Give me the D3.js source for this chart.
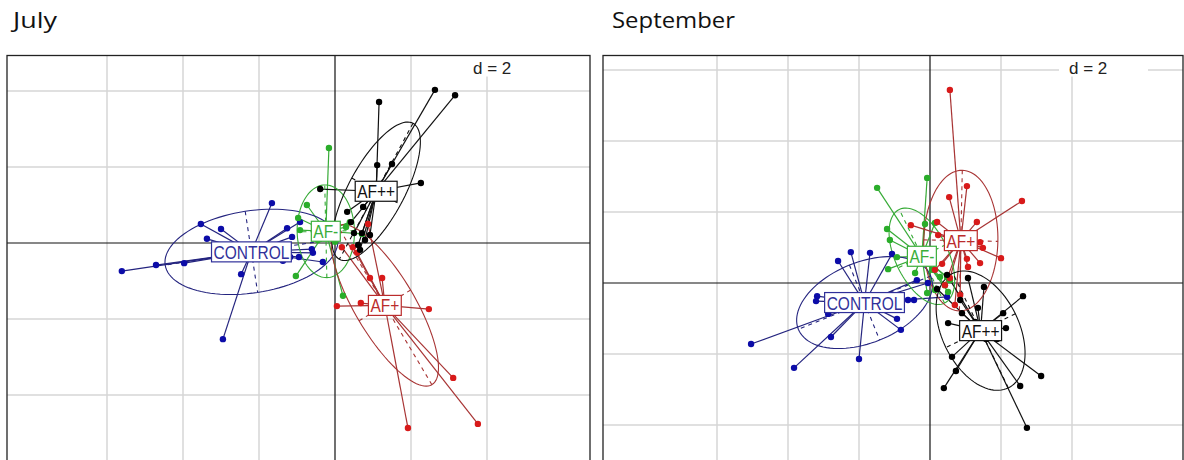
<!DOCTYPE html>
<html><head><meta charset="utf-8">
<script src="https://cdn.jsdelivr.net/npm/d3@7"></script>
<style>body{margin:0;background:#fff;}svg{display:block;}</style>
</head><body>
<svg id="chart" width="1184" height="460"></svg>
<script>
// ---- data (coordinates on the two first axes) ----
const groupNames = ["CONTROL", "AF-", "AF+", "AF++"];
const panelTitles = ["July", "September"];
const gridStep = 2;
const gridXTicks = [-6, -4, -2, 2, 4];
const julyGridY = [-6, -4, -2, 2, 4];
const septGridY = [-6, -4, -2, 2, 4, 6];

const julyControl = [[-1.66,1.05],[-3.53,0.50],[-3.00,0.37],[-3.37,0.11],[-1.26,0.39],[-1.13,0.16],[-5.61,-0.74],[-4.71,-0.58],[-3.97,-0.53],[-2.47,-0.82],[-2.95,-2.53],[-1.37,-0.47],[-0.92,0.55],[-0.61,-0.16],[-0.58,-0.26],[-0.95,-0.37],[-1.18,-0.37],[-0.32,-0.50]];
const julyAFminus = [[-0.16,2.50],[-0.74,1.00],[-0.97,0.66],[-0.92,0.34],[0.39,0.55],[0.29,0.42],[-1.03,-0.87],[0.21,-1.39],[0.71,0.24],[0.00,0.03],[-0.45,0.08],[-0.26,0.29],[-0.13,0.39],[-0.39,0.21],[-0.18,0.18]];
const julyAFplus = [[0.18,-0.11],[0.47,-0.11],[0.92,-0.92],[1.24,-0.92],[0.05,-1.66],[0.68,-1.58],[2.47,-1.74],[3.11,-3.55],[3.76,-4.76],[1.92,-4.87],[0.87,0.50],[0.58,-0.26],[1.13,-1.50],[1.34,-1.66],[1.18,-1.76],[1.39,-1.45],[1.03,-1.66],[1.29,-1.55]];
const julyAFplusplus = [[2.63,4.03],[3.16,3.89],[1.16,3.71],[1.11,2.05],[1.50,2.08],[2.26,1.58],[-0.39,1.42],[0.32,0.82],[0.74,0.95],[0.42,0.55],[0.50,0.26],[0.66,-0.18],[0.71,0.26],[0.79,0.08],[0.61,-0.05],[0.92,0.21],[1.13,1.39],[1.05,1.45],[1.21,1.32],[1.00,1.30],[1.26,1.47]];

const septControl = [[-2.59,0.62],[-2.23,0.87],[-1.69,0.85],[-1.07,0.82],[-3.18,-0.37],[-3.21,-0.51],[-2.87,-0.87],[-5.04,-1.72],[-2.79,-1.52],[-3.83,-2.39],[-2.00,-2.14],[-0.93,-1.01],[-0.82,-1.32],[-0.45,-0.48],[-0.62,-0.48],[0.48,-0.39],[-0.37,0.08],[-0.06,0.00],[-1.97,-0.48],[-1.69,-0.62],[-1.83,-0.42],[-2.11,-0.65],[-1.55,-0.54]];
const septAFminus = [[-1.49,2.68],[-0.08,2.96],[-1.21,1.52],[-1.13,1.21],[-1.18,0.39],[-0.93,0.73],[-0.14,1.66],[0.14,1.69],[0.28,0.17],[0.51,-0.25],[-0.08,-0.28],[-0.42,0.28],[-0.06,0.65],[0.06,0.37],[0.48,0.17],[0.42,-0.06],[0.14,-0.20],[0.56,0.08],[-0.28,0.70],[-0.17,0.59]];
const septAFplus = [[0.56,5.44],[1.04,2.73],[0.54,2.42],[2.59,2.31],[1.32,1.72],[-0.54,1.63],[0.20,1.72],[1.41,1.15],[0.23,1.35],[1.49,0.99],[2.00,0.70],[1.04,0.68],[1.41,0.56],[0.34,0.54],[1.07,0.45],[0.85,-0.34],[0.70,-0.62],[0.42,-0.06],[0.56,0.14],[0.14,0.37]];
const septAFplusplus = [[1.07,0.14],[1.52,-0.11],[2.62,-0.37],[0.20,-0.17],[1.35,-0.70],[2.06,-0.85],[0.51,-1.13],[2.14,-1.27],[1.89,-1.58],[0.62,-2.08],[0.73,-2.48],[0.39,-2.96],[3.13,-2.62],[2.54,-2.90],[2.73,-4.08],[0.48,0.23],[0.90,-0.85],[1.58,-1.58],[0.85,-0.48],[1.35,-1.24],[1.27,-1.10]];

// ---- styles ----
const pointColors = {"CONTROL":"#0c0ca8","AF-":"#2aad2a","AF+":"#d81a1a","AF++":"#000000"};
const lineColors  = {"CONTROL":"#24247f","AF-":"#36aa36","AF+":"#a83434","AF++":"#111111"};
const labelColors = {"CONTROL":"#30309a","AF-":"#3aae3a","AF+":"#bb2c2c","AF++":"#111111"};

// ---- layout ----
const panels = [
  {title: panelTitles[0], titleX: 13, titleW: 44, left: 7, right: 590, top: 55.5, bottom: 480,
   ox: 335, oy: 243, unit: 38, gridY: julyGridY,
   groups: [julyControl, julyAFminus, julyAFplus, julyAFplusplus], dx: 473, boxL: 462, boxR: 552},
  {title: panelTitles[1], titleX: 612, titleW: 123, left: 603, right: 1183, top: 55.5, bottom: 480,
   ox: 930, oy: 283, unit: 35.5, gridY: septGridY,
   groups: [septControl, septAFminus, septAFplus, septAFplusplus], dx: 1069, boxL: 1059, boxR: 1148}
];

const svg = d3.select("#chart");

function ellipseParams(pts, coeff) {
  const n = pts.length;
  const mx = d3.mean(pts, p => p[0]), my = d3.mean(pts, p => p[1]);
  let vx = 0, vy = 0, cxy = 0;
  pts.forEach(p => { vx += (p[0]-mx)**2; vy += (p[1]-my)**2; cxy += (p[0]-mx)*(p[1]-my); });
  vx /= n; vy /= n; cxy /= n;
  const delta = Math.sqrt((vx-vy)*(vx-vy) + 4*cxy*cxy);
  let l1 = (vx+vy+delta)/2, l2 = vx+vy-l1;
  l1 = Math.sqrt(Math.max(l1,0)); l2 = Math.sqrt(Math.max(l2,0));
  let a0, b0;
  if (Math.abs(cxy) < 1e-10) { if (vx > vy) {a0=1;b0=0;} else {a0=0;b0=1;} }
  else { a0 = 1; b0 = (l1*l1 - vx)/cxy; const nm = Math.hypot(a0,b0); a0/=nm; b0/=nm; }
  return {mx, my, c11: coeff*a0*l1, c12: -coeff*b0*l2, c21: coeff*b0*l1, c22: coeff*a0*l2};
}

panels.forEach((P, pi) => {
  const x = d3.scaleLinear().domain([(P.left-P.ox)/P.unit, (P.right-P.ox)/P.unit]).range([P.left, P.right]);
  const y = d3.scaleLinear().domain([(P.oy-P.top)/P.unit, (P.oy-P.bottom)/P.unit]).range([P.top, P.bottom]);

  // title
  svg.append("text").attr("x", P.titleX).attr("y", 28)
    .attr("font-family", "'Open Sans', 'Liberation Sans', sans-serif").attr("font-size", 21)
    .attr("textLength", P.titleW).attr("lengthAdjust", "spacingAndGlyphs")
    .attr("fill", "#111").text(P.title);

  const clipId = "clip" + pi;
  svg.append("clipPath").attr("id", clipId).append("rect")
    .attr("x", P.left).attr("y", P.top).attr("width", P.right-P.left).attr("height", P.bottom-P.top);
  const g = svg.append("g").attr("clip-path", `url(#${clipId})`);

  // grid
  g.selectAll(".gx").data(gridXTicks).join("line")
    .attr("x1", d => x(d)).attr("x2", d => x(d)).attr("y1", P.top).attr("y2", P.bottom)
    .attr("stroke", "#d6d6d6").attr("stroke-width", 1.5);
  g.selectAll(".gy").data(P.gridY).join("line")
    .attr("y1", d => y(d)).attr("y2", d => y(d)).attr("x1", P.left).attr("x2", P.right)
    .attr("stroke", "#d6d6d6").attr("stroke-width", 1.5);

  // d = 2 legend
  g.append("rect").attr("x", P.boxL).attr("y", P.top+0.5).attr("width", P.boxR-P.boxL).attr("height", 76-P.top)
    .attr("fill", "#fff");
  g.append("text").attr("x", P.dx).attr("y", 74).attr("font-family", "'Liberation Sans', Arial, sans-serif")
    .attr("font-size", 17).attr("fill", "#222").text("d = " + gridStep);

  // axes through origin
  g.append("line").attr("x1", x(0)).attr("x2", x(0)).attr("y1", P.top).attr("y2", P.bottom)
    .attr("stroke", "#111").attr("stroke-width", 1.2);
  g.append("line").attr("y1", y(0)).attr("y2", y(0)).attr("x1", P.left).attr("x2", P.right)
    .attr("stroke", "#111").attr("stroke-width", 1.2);

  const stats = P.groups.map(pts => ellipseParams(pts, 1.5));

  // stars
  P.groups.forEach((pts, gi) => {
    const name = groupNames[gi], e = stats[gi];
    g.append("g").selectAll("line").data(pts).join("line")
      .attr("x1", d => x(d[0])).attr("y1", d => y(d[1]))
      .attr("x2", x(e.mx)).attr("y2", y(e.my))
      .attr("stroke", lineColors[name]).attr("stroke-width", 1.2);
  });
  // ellipses
  P.groups.forEach((pts, gi) => {
    const name = groupNames[gi], e = stats[gi];
    const ring = d3.range(100).map(i => {
      const a = 2*Math.PI*i/100;
      return [x(e.mx + e.c11*Math.cos(a) + e.c12*Math.sin(a)), y(e.my + e.c21*Math.cos(a) + e.c22*Math.sin(a))];
    });
    g.append("path").attr("d", d3.line().curve(d3.curveLinearClosed)(ring))
      .attr("fill", "none").attr("stroke", lineColors[name]).attr("stroke-width", 1.1);
    [[e.c11, e.c21], [e.c12, e.c22]].forEach(([cx, cy]) => {
      g.append("line").attr("x1", x(e.mx+cx)).attr("y1", y(e.my+cy))
        .attr("x2", x(e.mx-cx)).attr("y2", y(e.my-cy))
        .attr("stroke", lineColors[name]).attr("stroke-width", 1.1).attr("stroke-dasharray", "4,4");
    });
  });
  // points
  P.groups.forEach((pts, gi) => {
    const name = groupNames[gi];
    g.append("g").selectAll("circle").data(pts).join("circle")
      .attr("cx", d => x(d[0])).attr("cy", d => y(d[1])).attr("r", 3.2)
      .attr("fill", pointColors[name]);
  });
  // labels (box centred on the group mean)
  P.groups.forEach((pts, gi) => {
    const name = groupNames[gi], e = stats[gi];
    const lg = g.append("g").attr("transform", `translate(${x(e.mx)},${y(e.my)})`);
    const probe = lg.append("text").attr("font-family", "'Liberation Sans', Arial, sans-serif")
      .attr("font-size", 15.5).text(name);
    const w = probe.node().getComputedTextLength();
    probe.remove();
    lg.append("rect").attr("x", -w/2-2).attr("y", -10).attr("width", w+4).attr("height", 20)
      .attr("fill", "#fff").attr("stroke", labelColors[name]).attr("stroke-width", 1.2);
    lg.append("text").attr("x", -w/2).attr("y", 7)
      .attr("font-family", "'Liberation Sans', Arial, sans-serif").attr("font-size", 19)
      .attr("textLength", w).attr("lengthAdjust", "spacingAndGlyphs")
      .attr("fill", labelColors[name]).text(name);
  });

  // frame
  svg.append("rect").attr("x", P.left).attr("y", P.top).attr("width", P.right-P.left).attr("height", P.bottom-P.top)
    .attr("fill", "none").attr("stroke", "#222").attr("stroke-width", 1.3);
});
</script>
</body></html>
